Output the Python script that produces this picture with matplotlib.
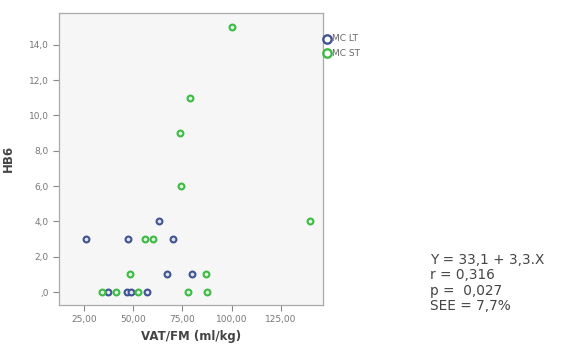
import matplotlib
matplotlib.use("Agg")
import matplotlib.pyplot as plt
from matplotlib.ticker import FuncFormatter

# values
lt_x = [26.3, 47.5, 70.0, 62.9, 67.4, 79.8, 37.3, 46.8, 49.0, 56.8]
lt_y = [3, 3, 3, 4, 1, 1, 0, 0, 0, 0]
st_x = [100.3, 78.9, 73.7, 74.2, 56.1, 60.3, 48.2, 86.9, 34.3, 41.1, 52.2, 77.6, 87.6, 139.7]
st_y = [15, 11, 9, 6, 3, 3, 1, 1, 0, 0, 0, 0, 0, 4]

x_ticks = [25, 50, 75, 100, 125]
y_ticks = [0, 2, 4, 6, 8, 10, 12, 14]
series_names = ["MC LT", "MC ST"]
colors = ["#3f5490", "#3dbb45"]

stats_lines = ["Y = 33,1 + 3,3.X", "r = 0,316", "p =  0,027", "SEE = 7,7%"]

fig = plt.figure(figsize=(5.61, 3.5), dpi=100)
ax = fig.add_axes([0.105, 0.129, 0.471, 0.834])
ax.set_facecolor("#f6f6f6")

ax.plot(lt_x, lt_y, "o", ms=4.2, mec=colors[0], mfc="#dfe2ee", mew=1.5, ls="none")
ax.plot(st_x, st_y, "o", ms=4.2, mec=colors[1], mfc="#dcf2dc", mew=1.5, ls="none")

ax.set_xlim(12.3, 146.4)
ax.set_ylim(-0.72, 15.8)
ax.set_xticks(x_ticks)
ax.set_yticks(y_ticks)
ax.xaxis.set_major_formatter(FuncFormatter(lambda v, p: f"{v:.2f}".replace(".", ",")))
ax.yaxis.set_major_formatter(
    FuncFormatter(lambda v, p: ",0" if v == 0 else f"{v:.1f}".replace(".", ",")))
ax.tick_params(direction="out", length=4, width=0.8, colors="#888888",
               labelsize=6.5, labelcolor="#777777")
for s in ax.spines.values():
    s.set_color("#aaaaaa")
    s.set_linewidth(0.9)

ax.set_xlabel("VAT/FM (ml/kg)", fontsize=8.5, fontweight="bold", color="#444444", labelpad=4)
ax.set_ylabel("HB6", fontsize=8.5, fontweight="bold", color="#444444", labelpad=10)

# legend outside right of the frame
for i, name in enumerate(series_names):
    yy = 0.89 - i * 0.042
    fig.lines.append(plt.Line2D([0.583], [yy], marker="o", ms=6, mfc="none",
                                mec=colors[i], mew=1.7, transform=fig.transFigure))
    fig.text(0.592, yy, name, fontsize=6.5, color="#666666", va="center")

for i, line in enumerate(stats_lines):
    fig.text(0.766, 0.258 - i * 0.044, line, fontsize=9.8, color="#444444",
             family="DejaVu Sans", va="center")

fig.savefig("out.png", dpi=100)
